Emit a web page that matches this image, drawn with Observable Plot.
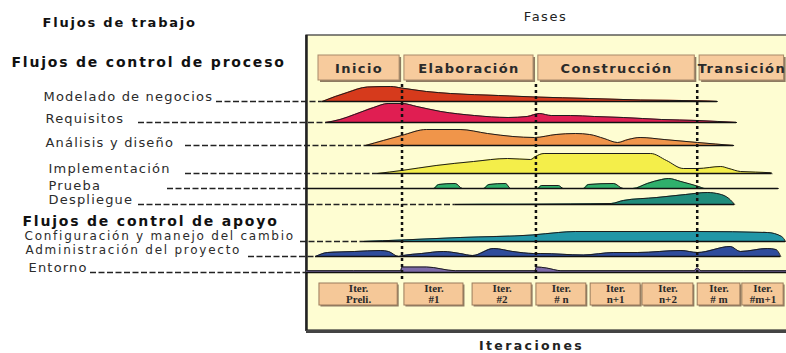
<!DOCTYPE html>
<html>
<head>
<meta charset="utf-8">
<script src="https://cdn.jsdelivr.net/npm/d3@7"></script>
<script src="https://cdn.jsdelivr.net/npm/@observablehq/plot@0.6"></script>
<style>
  html, body { margin: 0; padding: 0; background: #fff; }
  #chart svg { display: block; }
</style>
</head>
<body>
<div id="chart"></div>
<script>
// ================= DATA =================
const phases = ["Inicio", "Elaboración", "Construcción", "Transición"];
const phaseBounds = [2, 19.9, 47.8, 81.4, 100];           // time axis (0–100)
const iterations = ["Iter.\nPreli.", "Iter.\n#1", "Iter.\n#2", "Iter.\n# n", "Iter.\nn+1", "Iter.\nn+2", "Iter.\n# m", "Iter.\n#m+1"];
const iterStart = [2.7, 20.4, 34.6, 47.9, 59.2, 70.0, 81.5, 90.8];
const iterEnd   = [19.0, 32.7, 46.9, 58.3, 69.6, 80.6, 90.4, 99.4];

const processFlows = ["Modelado de negocios", "Requisitos", "Análisis y diseño", "Implementación", "Prueba", "Despliegue"];
const supportFlows = ["Configuración y manejo del cambio", "Administración del proyecto", "Entorno"];

// effort profiles: [time, effort]
const modelado = [[3.3,0],[6,5],[8.5,9],[12.7,14.5],[17.5,15],[19.8,13.5],[25,10],[30,8],[40,6],[47.7,4.5],[59,3],[69.6,1.5],[81.5,0.7],[85.6,0]];
const requisitos = [[4,0],[7,3],[10,8],[14,15],[17,19],[20,19],[23,16],[28,11],[35,7],[42,5],[46,6],[48.5,9],[51,7],[55,7],[60,6],[66,5],[74,3],[81.5,2],[89.6,0]];
const analisis = [[12.3,0],[16,5],[19.8,10],[25,16],[32,16],[37.7,12],[43,9],[47.5,8],[52,11],[56,12],[59,11],[62,7],[64.8,3],[67,6],[69.5,8],[74.5,6],[81.5,3],[89,0]];
const implementacion = [[14.8,0],[19.8,3],[27,8],[34.8,12],[41.9,15],[46.7,14],[47.7,17],[49.5,20],[71.7,20],[75,13],[78.5,5],[81.5,5],[86.3,7],[88,5],[90.4,2],[96.7,0.8],[97,0]];
const prueba = [[0,0],[26.5,0],[27.5,4],[31,5],[32.5,0],[36.9,0],[38,4],[41.5,5],[42.5,0],[48.1,0],[49,3],[52.5,3],[53.5,0],[57.7,0],[58.7,4],[64,5],[66,0],[68,0],[71,5],[74,9],[75.4,10],[78,7],[81.7,2],[83,0],[98.3,0]];
const despliegue = [[31,0],[55,0.5],[63.5,1],[66,4],[73,7],[79,10],[83.5,12],[86,10.5],[88,6],[89.2,0]];
const configuracion = [[11.9,0],[19.8,1.5],[32,4],[47,6.5],[52.5,9],[56,10],[81.5,10],[96,9],[99,5],[99.8,0]];
const administracion = [[1.9,0],[4.4,4],[10,5],[15.4,6],[17.1,5],[19.2,0],[20.2,1],[24,3],[28.5,5],[32,3],[34.6,1],[39,8],[43,5],[47.3,3],[48.8,3],[57.7,1.5],[64,4],[69,4],[78,6],[81.5,4],[88.3,10],[90.4,5],[96,8],[97.8,7],[98.8,0]];
const entorno = [[0,1.8],[19.6,1.8],[19.9,5.5],[25,5.5],[31,1.8],[47.6,1.8],[47.9,5.5],[50,4.5],[53,1.8],[80.8,1.8],[81.4,4.5],[82.2,1.8],[100,1.8]];

// ================= LAYOUT =================
const W = 786, H = 353;
const panelLeftPx = 306, pxPerUnit = 4.8;
const T = px => (px - panelLeftPx) / pxPerUnit;     // pixel column -> time unit

const flows = [...processFlows, ...supportFlows];
const profiles = [modelado, requisitos, analisis, implementacion, prueba, despliegue, configuracion, administracion, entorno];
const colors = ["#D63A1C", "#E01E52", "#F0954A", "#F4EE4A", "#2FB06C", "#1F8C7B", "#2196A6", "#2F4C9C", "#7C6AA8"];
const baseY   = [101, 122, 145, 173, 188, 204, 241, 256, 272];
const labelY  = [96, 118, 142, 168, 185, 199, 236, 249.5, 267];
const labelPx = [43, 45, 45, 48, 48, 48, 24, 25, 28];
const labelSize = [13, 13, 13, 13, 13, 13, 12, 12, 13];
const leaderPx = [216, 138, 185, 185, 167, 138, 300, 248, 90];

const rows = flows.map((name, i) => {
  const p = profiles[i];
  return {
    name, color: colors[i], base: baseY[i], ly: labelY[i], lx: T(labelPx[i]), size: labelSize[i],
    leadFrom: T(leaderPx[i]), leadTo: p[0][0], end: p[p.length - 1][0],
    pts: p.map(([t, e]) => ({ t, base: baseY[i], top: baseY[i] - e }))
  };
});

const phaseData = phases.map((name, i) => ({ name, x1: phaseBounds[i] + 0.5, x2: phaseBounds[i + 1] - 0.5, mid: (phaseBounds[i] + phaseBounds[i + 1]) / 2 }));
const iterData = iterations.map((label, i) => ({ label, x1: iterStart[i], x2: iterEnd[i], mid: (iterStart[i] + iterEnd[i]) / 2 }));
const boundaryLines = phaseBounds.slice(1, 4).map(t => ({ t }));

const headers = [
  { text: "Flujos de trabajo", x: T(42), y: 22, size: 13 },
  { text: "Flujos de control de proceso", x: T(11), y: 62, size: 14 },
  { text: "Flujos de control de apoyo", x: T(22), y: 221, size: 14 }
];

const curve = "monotone-x";
const FONT = "DejaVu Sans";

const marks = [
  // panel
  Plot.rect([{}], { x1: 0, x2: T(800), y1: 35, y2: 330, fill: "#FEFDD2", stroke: "#333", strokeWidth: 1.2 }),
  Plot.ruleX([0], { y1: 35, y2: 331, stroke: "#222", strokeWidth: 2.5 }),
  Plot.ruleY([331], { x1: 0, x2: T(800), stroke: "#444", strokeWidth: 3 }),
  // phase boxes
  Plot.rect(phaseData, { x1: "x1", x2: "x2", y1: 55, y2: 80, fill: "#8d7b62", dx: 2, dy: 2 }),
  Plot.rect(phaseData, { x1: "x1", x2: "x2", y1: 55, y2: 80, fill: "#F7CB9D", stroke: "#a8896a", strokeWidth: 1 }),
  Plot.text(phaseData, { x: "mid", y: 68, text: "name", fontFamily: FONT, fontWeight: "bold", fontSize: 13, fill: "#2a2a2a", ariaDescription: "ls13" }),
  // leaders
  Plot.ruleY(rows, { y: "base", x1: "leadFrom", x2: "leadTo", stroke: "#222", strokeWidth: 1.4, strokeDasharray: "6,2.5" }),
  // humps
  ...rows.flatMap(r => [
    Plot.areaY(r.pts, { x: "t", y1: "base", y2: "top", fill: r.color, curve }),
    Plot.line(r.pts, { x: "t", y: "top", stroke: "#1d1d1d", strokeWidth: 1, curve })
  ]),
  Plot.ruleY(rows, { y: "base", x1: "leadTo", x2: "end", stroke: "#111", strokeWidth: 1.6 }),
  // phase boundaries
  Plot.ruleX(boundaryLines, { x: "t", y1: 84, y2: 279, stroke: "#111", strokeWidth: 2.5, strokeDasharray: "3,3" }),
  // iteration boxes
  Plot.rect(iterData, { x1: "x1", x2: "x2", y1: 283, y2: 305, fill: "#8d7b62", dx: 1.5, dy: 1.5 }),
  Plot.rect(iterData, { x1: "x1", x2: "x2", y1: 283, y2: 305, fill: "#F5C898", stroke: "#9a7b5c", strokeWidth: 1 }),
  Plot.text(iterData, { x: "mid", y: 293.5, text: "label", fontFamily: "Liberation Serif", fontWeight: "bold", fontSize: 11, lineHeight: 1.0, fill: "#2a2a2a" }),
  // flow labels
  Plot.text(rows, { x: "lx", y: "ly", text: "name", fontSize: "size", textAnchor: "start", fontFamily: FONT, fill: "#2b2b2b", ariaDescription: "ls12" }),
  // headers
  Plot.text(headers, { x: "x", y: "y", text: "text", fontSize: "size", textAnchor: "start", fontFamily: FONT, fontWeight: "bold", fill: "#111", ariaDescription: "ls18" }),
  Plot.text(["Fases"], { x: T(545), y: 16, text: d => d, fontFamily: FONT, fontSize: 13, fill: "#222", ariaDescription: "ls15" }),
  Plot.text(["Iteraciones"], { x: T(531), y: 345.5, text: d => d, fontFamily: FONT, fontWeight: "bold", fontSize: 12.5, fill: "#222", ariaDescription: "ls22" })
];

const chart = Plot.plot({
  width: W, height: H,
  margin: 0,
  x: { domain: [T(0), T(W)], range: [0, W], axis: null },
  y: { domain: [0, H], range: [0, H], axis: null },
  style: { background: "#fff", fontFamily: FONT },
  marks
});

const spacing = { ls13: "1.4px", ls12: "1.2px", ls18: "1.8px", ls15: "1.5px", ls22: "2.4px" };
d3.select(chart).selectAll("g[aria-description]").each(function () {
  const key = this.getAttribute("aria-description");
  if (spacing[key]) d3.select(this).selectAll("text").style("letter-spacing", spacing[key]);
});
// the two support labels at 12px get slightly wider spacing to keep their reference width
d3.select(chart).selectAll('g[aria-description="ls12"] text').each(function () {
  if (this.getAttribute("font-size") === "12") d3.select(this).style("letter-spacing", "1.75px");
});

document.getElementById("chart").append(chart);
</script>
</body>
</html>
